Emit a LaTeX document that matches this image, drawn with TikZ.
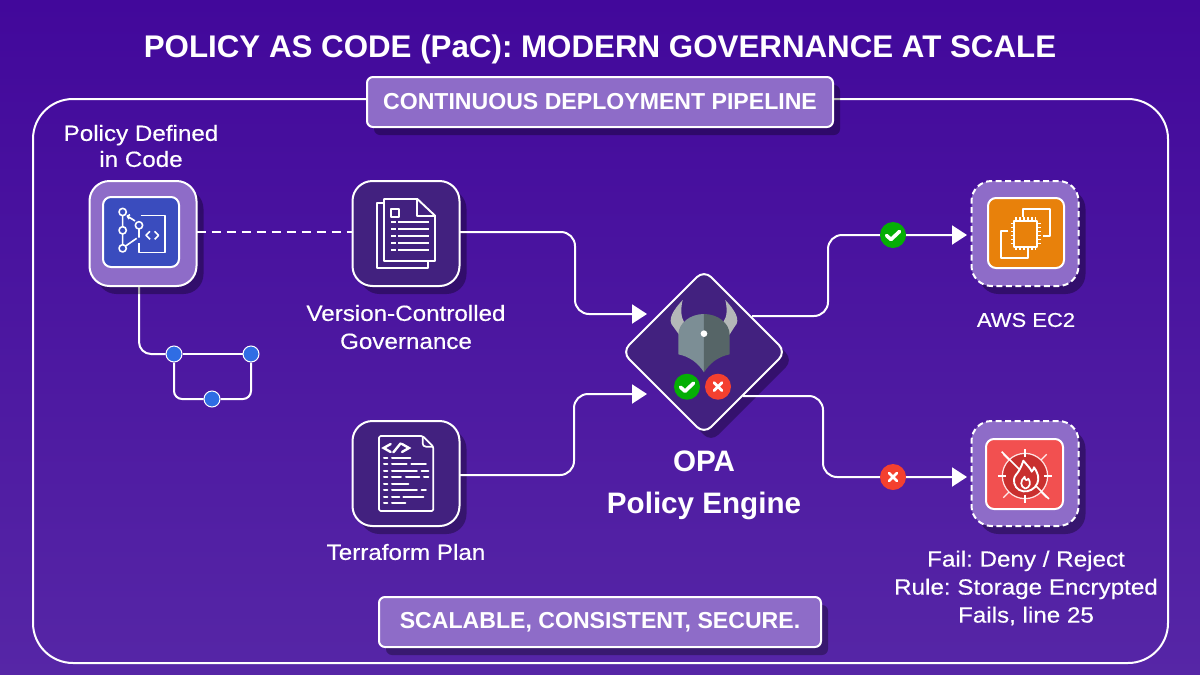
\documentclass[tikz,border=0pt]{standalone}
\usepackage{fontspec}
\usetikzlibrary{arrows.meta,shapes.geometric,shadows,calc,backgrounds}
\setmainfont{Liberation Sans}
\newfontfamily\lblfont[FakeStretch=1.1,FakeBold=0.45]{Liberation Sans}
\newfontfamily\banfont{Liberation Sans Bold}
\newfontfamily\capfont{Liberation Sans Bold}
\frenchspacing
\definecolor{bgtop}{HTML}{42089B}
\definecolor{bgbot}{HTML}{5626A6}
\definecolor{boxlilac}{HTML}{8E6CC8}
\definecolor{boxdark}{HTML}{42217F}
\definecolor{gitblue}{HTML}{3A4CBE}
\definecolor{dotblue}{HTML}{2F6DE4}
\definecolor{ecorange}{HTML}{E8810B}
\definecolor{firered}{HTML}{F25050}
\definecolor{firedark}{HTML}{C9302F}
\definecolor{okgreen}{HTML}{05AE05}
\definecolor{nored}{HTML}{F4402F}
\definecolor{helmA}{HTML}{7C8E95}
\definecolor{helmB}{HTML}{566567}
\definecolor{hornc}{HTML}{B4B8B8}
\tikzset{
  wline/.style={draw=white,line width=2pt},
  shadowed/.style={copy shadow={draw=none,fill=black,fill opacity=.32,shadow xshift=7pt,shadow yshift=-8pt}},
  card/.style={shape=rectangle,wline,rounded corners=20pt,minimum width=107pt,minimum height=105pt,outer sep=0pt,inner sep=0pt,shadowed},
  innerbox/.style={shape=rectangle,wline,rounded corners=8pt,outer sep=0pt,inner sep=0pt},
  banner/.style={shape=rectangle,wline,fill=boxlilac,rounded corners=6pt,minimum height=50pt,text=white,inner sep=0pt,outer sep=0pt,shadowed,font=\banfont\fontsize{23.1}{23}\selectfont},
  lbl/.style={text=white,align=center,inner sep=0pt,font=\lblfont\fontsize{22}{28}\selectfont},
  link/.style={wline,line join=round},
  arrowlink/.style={wline,-{Triangle[length=15pt,width=19pt]},shorten >=0pt},
  dotnode/.style={circle,fill=dotblue,draw=white,line width=1pt,minimum size=16pt,inner sep=0pt},
  badge/.style={circle,minimum size=26pt,inner sep=0pt,outer sep=0pt},
  ico/.style={draw=white,line width=1.6pt,line join=round},
  icot/.style={draw=white,line width=2pt,line cap=round},
  markok/.style={draw=white,line width=3.6pt,line cap=round,line join=round},
  markx/.style={draw=white,line width=2.8pt,line cap=round},
}
\newcommand{\okmark}[1]{\draw[markok] ($(#1)+(-6.5,0.5)$) -- ($(#1)+(-2,4.5)$) -- ($(#1)+(6.5,-3.5)$);}
\newcommand{\nomark}[1]{\draw[markx] ($(#1)+(-4,-4)$) -- ($(#1)+(4,4)$) ($(#1)+(4,-4)$) -- ($(#1)+(-4,4)$);}
\begin{document}
\begin{tikzpicture}[x=1pt,y=-1pt]
\useasboundingbox (0,0) rectangle (1200,675);
\begin{scope}[on background layer]
  \shade[top color=bgtop,bottom color=bgbot] (0,0) rectangle (1200,675);
  \node[shape=rectangle,wline,rounded corners=40pt,minimum width=1135pt,minimum height=564pt,inner sep=0pt] (frame) at (600.5,381) {};
\end{scope}

% title
\node[text=white,inner sep=0pt,font=\capfont\fontsize{31.3}{31}\selectfont] (title) at (600,49) {POLICY AS CODE (PaC): MODERN GOVERNANCE AT SCALE};

% banners
\node[banner,minimum width=466pt] (top) at (600,102) {CONTINUOUS DEPLOYMENT PIPELINE};
\node[banner,minimum width=442pt] (bot) at (600,622) {SCALABLE, CONSISTENT, SECURE.};

% git sub-branch nodes
\node[dotnode] (d1) at (174,354) {};
\node[dotnode] (d2) at (251,354) {};
\node[dotnode] (d3) at (212,399) {};
\coordinate (gitout) at (139,286);
\begin{scope}[on background layer]
  \draw[link,rounded corners=12pt] (gitout) |- (d1);
  \draw[link] (d1) -- (d2);
  \draw[link,rounded corners=8pt] (d1) |- (d3);
  \draw[link,rounded corners=8pt] (d2) |- (d3);
\end{scope}

% cards
\node[card,fill=boxlilac] (policy) at (143,233.5) {};
\node[innerbox,fill=gitblue,minimum width=76pt,minimum height=70pt] (policyin) at (141,232) {};
\node[card,fill=boxdark] (ver) at (406,233.5) {};
\node[card,fill=boxdark] (tf) at (406,473.5) {};
\node[card,fill=boxlilac,dash pattern=on 6pt off 3.5pt] (ec2) at (1025,233.5) {};
\node[innerbox,fill=ecorange,minimum width=76pt,minimum height=70pt] (ec2in) at (1026,233) {};
\node[card,fill=boxlilac,dash pattern=on 6pt off 3.5pt] (fail) at (1025,473.5) {};
\node[innerbox,fill=firered,minimum width=77pt,minimum height=70pt] (failin) at (1024.5,474) {};
\node[shape=diamond,wline,fill=boxdark,rounded corners=10pt,minimum width=164pt,minimum height=164pt,inner sep=0pt,outer sep=0pt,shadowed] (opa) at (704,352) {};

% git icon
\begin{scope}[shift={(40,110)},x=0.3333pt,y=-0.3333pt]
  \draw[ico] (248,306) circle[radius=11] (248,361) circle[radius=11] (248,415) circle[radius=11] (297,346) circle[radius=11];
  \draw[ico] (248,317) -- (248,350) (248,372) -- (248,404) (257,408) -- (290,385) (297,357) -- (297,383);
  \draw[ico] (285,333) -- (262,318) (270,314) -- (262,318) -- (267,327);
  \draw[ico] (302,316) -- (375,316) -- (375,428) -- (297,428) -- (297,400);
  \draw[ico] (330,364) -- (318,376) -- (330,388) (344,364) -- (356,376) -- (344,388);
\end{scope}

% document icon
\begin{scope}[shift={(330,170)},x=0.3333pt,y=-0.3333pt]
  \draw[ico,line width=1.9pt] (160,100) -- (142,100) -- (142,293) -- (293,293) -- (293,275);
  \draw[ico,line width=1.9pt] (162,87) -- (262,87) -- (315,137) -- (315,273) -- (162,273) -- cycle;
  \draw[ico,line width=1.9pt] (262,87) -- (262,137) -- (315,137);
  \draw[ico,line width=1.9pt] (184,118) rectangle (208,142);
  \foreach \yy in {155,176,197,218,240}{
    \draw[white,line width=2pt] (184,\yy) -- (197,\yy) (205,\yy) -- (296,\yy);
  }
\end{scope}

% terraform file icon
\begin{scope}[shift={(330,410)},x=0.3333pt,y=-0.3333pt]
  \draw[ico,line width=1.7pt,rounded corners=1.5pt] (147,78) -- (278,78) -- (310,110) -- (310,303) -- (147,303) -- cycle;
  \draw[ico,line width=1.7pt] (278,78) -- (278,100) .. controls (278,106) and (282,110) .. (288,110) -- (310,110);
  \draw[icot,line width=2.4pt] (182,102) -- (161,114) -- (182,126) (190,127) -- (212,100) (216,102) -- (237,114) -- (216,126);
  \foreach \yy in {144,163,183,202,221,240,260,279}{\draw[icot] (162,\yy) -- (172,\yy);}
  \draw[icot] (186,144) -- (241,144);
  \draw[icot] (186,163) -- (230,163) (244,163) -- (288,163);
  \draw[icot] (186,183) -- (261,183) (275,183) -- (295,183);
  \draw[icot] (186,202) -- (213,202) (228,202) -- (268,202) (282,202) -- (295,202);
  \draw[icot] (186,221) -- (235,221);
  \draw[icot] (186,240) -- (261,240) (275,240) -- (288,240);
  \draw[icot] (186,260) -- (208,260) (220,260) -- (280,260);
  \draw[icot] (186,279) -- (226,279);
\end{scope}

% EC2 icon
\begin{scope}[shift={(860,170)},x=0.3333pt,y=-0.3333pt]
  \draw[ico,line width=1.9pt] (490,140) -- (490,117) -- (571,117) -- (571,198) -- (548,198);
  \draw[ico,line width=1.9pt] (445,182) -- (422,182) -- (422,263) -- (503,263) -- (503,240);
  \draw[ico,line width=2pt] (462,152) rectangle (532,230);
  \foreach \xx in {468,480,492,504,516,527}{\draw[white,line width=1.5pt] (\xx,142) -- (\xx,152) (\xx,230) -- (\xx,240);}
  \foreach \yy in {160,172,184,196,208,221}{\draw[white,line width=1.5pt] (452,\yy) -- (462,\yy) (532,\yy) -- (542,\yy);}
\end{scope}

% fire icon
\begin{scope}[shift={(860,410)},x=0.3333pt,y=-0.3333pt]
  \fill[firedark] (495,198) circle[radius=66];
  \draw[white!85!firered,line width=1.2pt] (495,198) circle[radius=68];
  \foreach \aa in {0,90,180,270}{\draw[white,line width=1.5pt] ($(495,198)+(\aa:58)$) -- ($(495,198)+(\aa:80)$);}
  \foreach \aa in {45,135,225,315}{\draw[white!90!firered,line width=1.4pt] ($(495,198)+(\aa:68)$) -- ($(495,198)+(\aa:92)$);}
  \draw[white,line width=1.5pt] (425,125) -- (567,267);
  \draw[white,line width=1.9pt,line join=round,fill=firedark] (490,152) .. controls (505,170) and (512,176) .. (515,185) .. controls (520,180) and (522,175) .. (522,172) .. controls (535,190) and (538,205) .. (532,220) .. controls (525,238) and (505,246) .. (490,244) .. controls (472,242) and (460,225) .. (462,208) .. controls (464,195) and (472,192) .. (478,180) .. controls (483,170) and (488,162) .. (490,152) -- cycle;
  \draw[white,line width=1.7pt,line join=round] (496,236) .. controls (480,230) and (480,212) .. (494,200) .. controls (494,210) and (500,214) .. (505,206) .. controls (514,218) and (510,232) .. (496,236);
\end{scope}

% OPA helmet
\begin{scope}[shift={(610,260)},x=0.3333pt,y=-0.3333pt]
  \fill[hornc] (218,120) .. controls (190,150) and (170,180) .. (190,200) -- (208,225) -- (222,186) .. controls (212,170) and (212,145) .. (218,120) -- cycle;
  \fill[hornc] (346,120) .. controls (374,150) and (394,180) .. (374,200) -- (358,225) -- (340,186) .. controls (352,170) and (352,145) .. (346,120) -- cycle;
  \fill[helmA] (282,162) .. controls (240,162) and (205,190) .. (205,225) -- (205,283) .. controls (240,290) and (265,310) .. (282,337) -- cycle;
  \fill[helmB] (282,162) .. controls (324,162) and (359,190) .. (359,225) -- (359,283) .. controls (324,290) and (299,310) .. (282,337) -- cycle;
  \fill[white] (282,221) circle[radius=10];
\end{scope}
\node[badge,fill=okgreen] (opaok) at (687,386.7) {};
\okmark{opaok}
\node[badge,fill=nored] (opano) at (718,386.7) {};
\nomark{opano}

% connectors
\coordinate (vin) at (647,314);
\coordinate (tin) at (647,394);
\coordinate (oout) at (752,316);
\coordinate (nout) at (743,396);
\coordinate (ein) at (967,235);
\coordinate (fin) at (967,477);
\draw[wline,dash pattern=on 9.5pt off 5.5pt] (policy.east |- policyin) -- (policyin.center -| ver.west);
\draw[arrowlink,rounded corners=14pt] (ver.east |- ver.center) ++(0,-1.5) -- (575,232) -- (575,314) -- (vin);
\draw[arrowlink,rounded corners=14pt] (tf.east) ++(0,1.5) -- (574,475) -- (574,394) -- (tin);
\draw[arrowlink,rounded corners=14pt] (oout) -- (828,316) -- (828,235) -- (ein);
\draw[arrowlink,rounded corners=14pt] (nout) -- (823,396) -- (823,477) -- (fin);
\node[badge,fill=okgreen] (okb) at (893,235) {};
\okmark{okb}
\node[badge,fill=nored] (nob) at (893,477) {};
\nomark{nob}

% labels
\node[lbl,font=\lblfont\fontsize{22}{26}\selectfont] (l1) at (141,146) {Policy Defined\\in Code};
\node[lbl] (l2) at (406,327) {Version-Controlled\\Governance};
\node[lbl] (l3) at (406,552) {Terraform Plan};
\node[lbl,font=\lblfont\fontsize{20}{24}\selectfont] (l4) at (1026,320) {AWS EC2};
\node[lbl] (l5) at (1026,588) {Fail: Deny / Reject\\Rule: Storage Encrypted\\Fails, line 25};
\node[text=white,align=center,inner sep=0pt,font=\capfont\fontsize{29.6}{42}\selectfont] (l6) at (704,485) {OPA\\Policy Engine};
\end{tikzpicture}
\end{document}
